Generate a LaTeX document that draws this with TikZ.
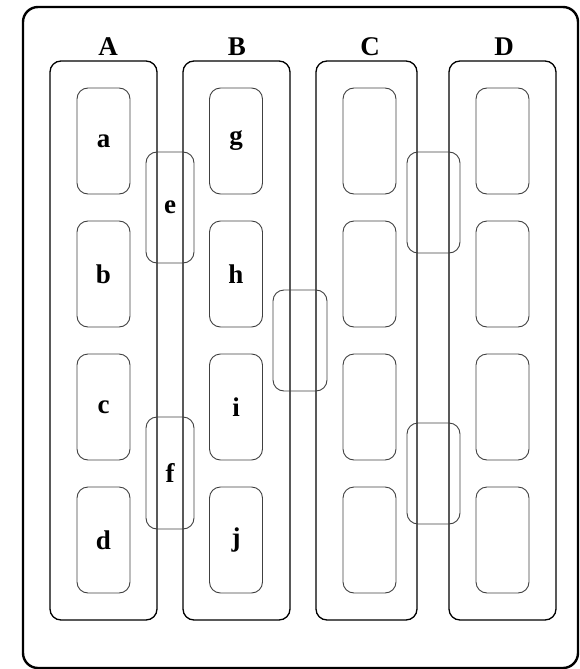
\documentclass[tikz,border=0pt]{standalone}
\usepackage{fontspec}
\setmainfont{Liberation Serif}
\begin{document}
\begin{tikzpicture}[x=1pt, y=-1pt,
  frame/.style={draw, line width=2.4pt, rounded corners=15pt, inner sep=0pt},
  group/.style={draw, line width=1.3pt, rounded corners=11pt, inner sep=0pt},
  item/.style={draw=black!75, line width=0.9pt, rounded corners=11pt, inner sep=0pt,
    minimum width=53pt, minimum height=106pt, font=\fontsize{27}{29}\selectfont\bfseries},
  link/.style={draw=black!75, line width=0.9pt, rounded corners=11pt, inner sep=0pt,
    font=\fontsize{27}{29}\selectfont\bfseries},
  head/.style={anchor=base, inner sep=0pt, font=\fontsize{27}{29}\selectfont\bfseries}]
\useasboundingbox (0,0) rectangle (579,669);

% outer frame
\node[frame, minimum width=555pt, minimum height=661pt] (frame) at (300.5,337.5) {};

% column groups
\node[group, minimum width=107pt, minimum height=559pt] (A) at (103.5,340.5) {};
\node[group, minimum width=107pt, minimum height=559pt] (B) at (236.5,340.5) {};
\node[group, minimum width=101pt, minimum height=559pt] (C) at (366.5,340.5) {};
\node[group, minimum width=107pt, minimum height=559pt] (D) at (502.5,340.5) {};

% column headings
\node[head] (hA) at (108,56) {A};
\node[head] (hB) at (237,56) {B};
\node[head] (hC) at (370,56) {C};
\node[head] (hD) at (504,56) {D};

% items in each column
\node[item] (a) at (103.5,141) {a};
\node[item] (b) at (103.5,274) {b};
\node[item] (c) at (103.5,407) {c};
\node[item] (d) at (103.5,540) {d};

\node[item] (g) at (236,141) {g};
\node[item] (h) at (236,274) {h};
\node[item] (i) at (236,407) {i};
\node[item] (j) at (236,540) {j};

\node[item] (c1) at (369.5,141) {};
\node[item] (c2) at (369.5,274) {};
\node[item] (c3) at (369.5,407) {};
\node[item] (c4) at (369.5,540) {};

\node[item] (d1) at (502.5,141) {};
\node[item] (d2) at (502.5,274) {};
\node[item] (d3) at (502.5,407) {};
\node[item] (d4) at (502.5,540) {};

% links straddling neighbouring columns
\node[link, minimum width=48pt, minimum height=111pt] (e) at (170,207.5) {e};
\node[link, minimum width=48pt, minimum height=112pt] (f) at (170,473) {f};
\node[link, minimum width=54pt, minimum height=101pt] (bc) at (300,340.5) {};
\node[link, minimum width=53pt, minimum height=101pt] (cd1) at (433.5,202.5) {};
\node[link, minimum width=53pt, minimum height=101pt] (cd2) at (433.5,473.5) {};
\end{tikzpicture}
\end{document}
